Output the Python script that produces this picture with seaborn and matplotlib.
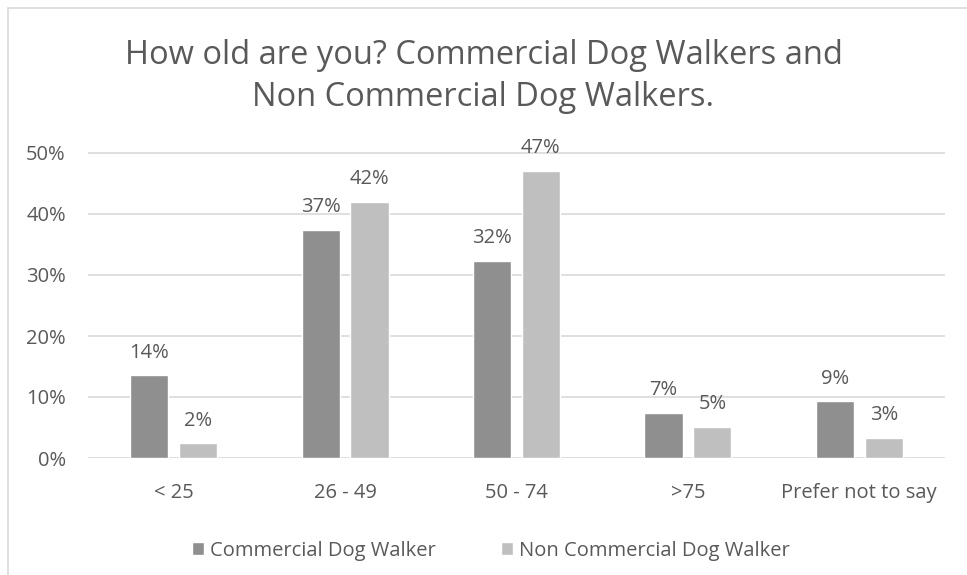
import pandas as pd
import matplotlib.pyplot as plt
import seaborn as sns
from matplotlib.patches import Rectangle

# Datos
categorias = ['< 25', '26 - 49', '50 - 74', '>75', 'Prefer not to say']
series = ['Commercial Dog Walker', 'Non Commercial Dog Walker']
comercial = [0.136, 0.374, 0.323, 0.074, 0.093]
no_comercial = [0.024, 0.420, 0.471, 0.051, 0.033]
colores = ['#8f8f8f', '#bfbfbf']
texto = '#595959'

df = pd.DataFrame({
    'edad': categorias * 2,
    'tipo': [series[0]] * 5 + [series[1]] * 5,
    'valor': comercial + no_comercial,
})

sns.set_style('white')
plt.rcParams['font.family'] = ['Open Sans', 'DejaVu Sans']

fig = plt.figure(figsize=(9.67, 5.75), dpi=100)
ax = fig.add_axes([88 / 967, 1 - 458 / 575, 857 / 967, 305 / 575 * 1.06])

sns.barplot(data=df, x='edad', y='valor', hue='tipo', order=categorias,
            hue_order=series, palette=colores, width=0.57, gap=0.22,
            saturation=1, ax=ax, legend=True)

for cont in ax.containers:
    ax.bar_label(cont, labels=[f'{v * 100:.0f}%' for v in cont.datavalues],
                 padding=9, fontsize=14.5, color=texto)

ax.set_ylim(0, 0.53)
ax.set_yticks([0, 0.1, 0.2, 0.3, 0.4, 0.5])
ax.set_yticklabels(['0%', '10%', '20%', '30%', '40%', '50%'])
ax.set_xlabel('')
ax.set_ylabel('')
ax.tick_params(axis='both', length=0, labelsize=14.5, labelcolor=texto)
ax.tick_params(axis='x', pad=18)
ax.tick_params(axis='y', pad=16)
ax.yaxis.grid(True, color='#d9d9d9', linewidth=1.2)
ax.set_axisbelow(True)
for s in ax.spines.values():
    s.set_visible(False)

ax.legend(loc='upper center', bbox_to_anchor=(0.47, -0.2), ncol=2, frameon=False,
          fontsize=14.5, labelcolor=texto, handlelength=0.6, handleheight=0.6,
          handletextpad=0.3, columnspacing=3.2)

fig.text(0.5, 1 - 55 / 575, 'How old are you? Commercial Dog Walkers and',
         ha='center', va='center', fontsize=23.5, color=texto)
fig.text(0.5, 1 - 98 / 575, 'Non Commercial Dog Walkers.',
         ha='center', va='center', fontsize=23.5, color=texto)

fig.patches.append(Rectangle((8 / 967, -0.01), 1, 1 - 8 / 575 + 0.01,
                             transform=fig.transFigure, fill=False,
                             edgecolor='#d9d9d9', linewidth=1.2))

fig.savefig('out.png', dpi=100)
